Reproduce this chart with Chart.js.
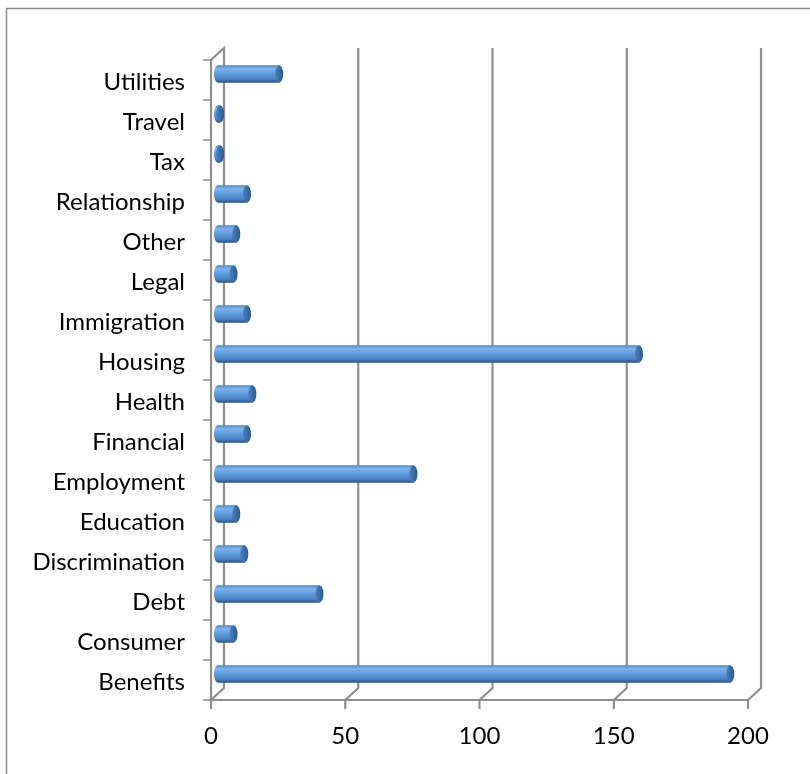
<!DOCTYPE html>
<html>
<head>
<meta charset="utf-8">
<script src="https://cdn.jsdelivr.net/npm/chart.js@4"></script>
<style>
  html, body { margin: 0; padding: 0; background: #fff; }
  #wrap { width: 810px; height: 774px; position: relative; }
</style>
</head>
<body>
<div id="wrap"><canvas id="issues" width="810" height="774"></canvas></div>
<script>
const categories = ["Benefits", "Consumer", "Debt", "Discrimination", "Education", "Employment",
  "Financial", "Health", "Housing", "Immigration", "Legal", "Other", "Relationship", "Tax",
  "Travel", "Utilities"];
const enquiries = [191, 6, 38, 10, 7, 73, 11, 13, 157, 11, 6, 7, 11, 1, 1, 23];
const xTicks = [0, 50, 100, 150, 200];

// 3d depth of the plot box, bars sit half way in
const DX = 13, DY = -12;
const BX = DX / 2, BY = DY / 2;
const BAR_H = 17;
const lineCol = "#8f8f8f";
const labelFont = { family: "Lato", size: 24 };

function barShade(c, top) {
  const g = c.createLinearGradient(0, top, 0, top + BAR_H);
  g.addColorStop(0, "#5088c8");
  g.addColorStop(0.18, "#80b3e9");
  g.addColorStop(0.45, "#619fe0");
  g.addColorStop(0.8, "#4a80c0");
  g.addColorStop(1, "#2c5584");
  return g;
}

const box3d = {
  id: "box3d",
  beforeDatasetsDraw(chart) {
    const c = chart.ctx, a = chart.chartArea, xs = chart.scales.x;
    c.save();
    c.strokeStyle = lineCol;
    c.lineWidth = 2.2;
    // left wall
    c.beginPath();
    c.moveTo(a.left, a.bottom);
    c.lineTo(a.left, a.top);
    c.lineTo(a.left + DX, a.top + DY);
    c.lineTo(a.left + DX, a.bottom + DY);
    c.lineTo(a.left, a.bottom);
    c.lineTo(a.right, a.bottom);
    c.stroke();
    // back grid lines + floor diagonals
    xTicks.forEach(v => {
      const px = xs.getPixelForValue(v);
      c.beginPath();
      if (v > 0) {
        c.moveTo(px + DX, a.top + DY);
        c.lineTo(px + DX, a.bottom + DY);
        c.lineTo(px, a.bottom);
      }
      c.moveTo(px, a.bottom);
      c.lineTo(px, a.bottom + 9);
      c.stroke();
    });
    // category tick marks on the left
    const n = categories.length, step = (a.bottom - a.top) / n;
    c.lineWidth = 1.5;
    c.beginPath();
    for (let i = 0; i <= n; i++) {
      const y = a.top + i * step;
      c.moveTo(a.left - 8, y);
      c.lineTo(a.left, y);
    }
    c.stroke();
    c.restore();

    // rounded left ends of the bars, then shift for bar drawing
    const meta = chart.getDatasetMeta(0);
    c.save();
    c.translate(BX, BY);
    meta.data.forEach(el => {
      c.beginPath();
      c.ellipse(el.base, el.y, 3.5, BAR_H / 2, 0, 0, Math.PI * 2);
      c.fillStyle = barShade(c, el.y - BAR_H / 2);
      c.fill();
    });
  },
  afterDatasetsDraw(chart) {
    const c = chart.ctx;
    const meta = chart.getDatasetMeta(0);
    meta.data.forEach(el => {
      const g = c.createLinearGradient(el.x - 4, 0, el.x + 4, 0);
      g.addColorStop(0, "#4a7fbc");
      g.addColorStop(1, "#2f5a8c");
      c.beginPath();
      c.ellipse(el.x, el.y, 4, BAR_H / 2, 0, 0, Math.PI * 2);
      c.fillStyle = g;
      c.fill();
    });
    c.restore();
  },
  afterDraw(chart) {
    const c = chart.ctx;
    c.save();
    c.strokeStyle = "#8c8c8c";
    c.lineWidth = 1.5;
    c.strokeRect(6.5, 8.5, 1000, 1000);
    c.restore();
  }
};

new Chart(document.getElementById("issues"), {
  type: "bar",
  data: {
    labels: categories,
    datasets: [{
      data: enquiries,
      barThickness: BAR_H,
      borderWidth: 0,
      backgroundColor: (ctx) => {
        const ys = ctx.chart.scales.y;
        if (!ys || ctx.type !== "data") return "#5b9bd5";
        const py = ys.getPixelForValue(ctx.dataIndex);
        if (!Number.isFinite(py)) return "#5b9bd5";
        return barShade(ctx.chart.ctx, py - BAR_H / 2);
      }
    }]
  },
  options: {
    responsive: false,
    animation: false,
    indexAxis: "y",
    layout: { padding: { left: 0, right: 62, top: 60, bottom: 0 } },
    plugins: { legend: { display: false }, tooltip: { enabled: false } },
    scales: {
      x: {
        min: 0, max: 200,
        ticks: { stepSize: 50, padding: 22, color: "#000", font: labelFont, maxRotation: 0 },
        grid: { display: false, drawTicks: false },
        border: { display: false },
        afterFit(s) { s.height = 74; }
      },
      y: {
        reverse: true,
        ticks: { padding: 26, labelOffset: 2, color: "#000", font: labelFont, autoSkip: false },
        grid: { display: false, drawTicks: false },
        border: { display: false },
        afterFit(s) { s.width = 211; }
      }
    }
  },
  plugins: [box3d]
});
</script>
</body>
</html>
